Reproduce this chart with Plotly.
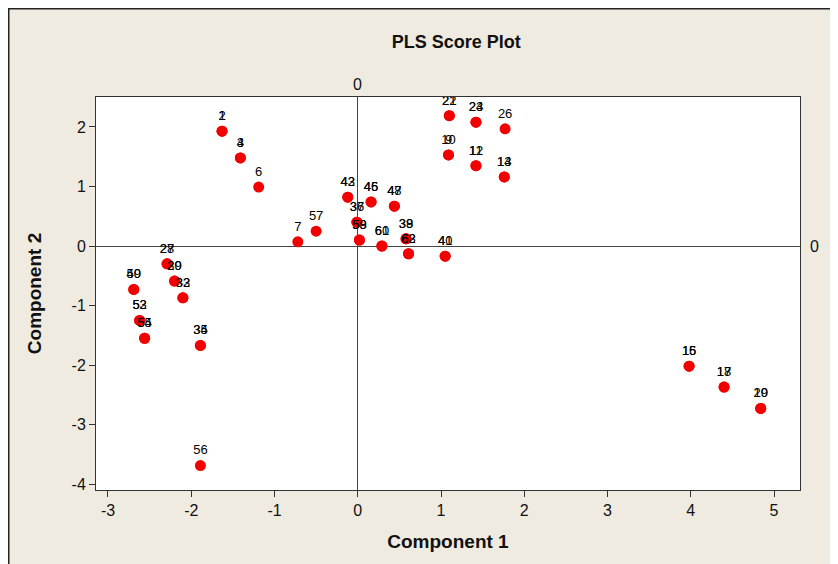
import plotly.graph_objects as go

labels = ["1", "2", "3", "4", "6", "7", "57", "42", "43", "45", "46", "47", "48",
          "36", "37", "58", "59", "60", "61", "38", "39", "62", "63", "40", "41",
          "21", "22", "23", "24", "26", "9", "10", "11", "12", "13", "14",
          "15", "16", "17", "18", "19", "20",
          "27", "28", "29", "30", "32", "33", "49", "50", "52", "53", "54", "55",
          "34", "35", "56"]
comp1 = [-1.63, -1.63, -1.41, -1.41, -1.19, -0.72, -0.50, -0.12, -0.12, 0.16, 0.16, 0.44, 0.44,
         -0.01, -0.01, 0.02, 0.02, 0.29, 0.29, 0.58, 0.58, 0.61, 0.61, 1.05, 1.05,
         1.10, 1.10, 1.42, 1.42, 1.77, 1.09, 1.09, 1.42, 1.42, 1.76, 1.76,
         3.98, 3.98, 4.40, 4.40, 4.84, 4.84,
         -2.29, -2.29, -2.20, -2.20, -2.10, -2.10, -2.69, -2.69, -2.62, -2.62, -2.56, -2.56,
         -1.89, -1.89, -1.89]
comp2 = [1.93, 1.93, 1.48, 1.48, 0.99, 0.07, 0.25, 0.82, 0.82, 0.74, 0.74, 0.67, 0.67,
         0.40, 0.40, 0.10, 0.10, 0.00, 0.00, 0.12, 0.12, -0.13, -0.13, -0.17, -0.17,
         2.19, 2.19, 2.08, 2.08, 1.97, 1.53, 1.53, 1.35, 1.35, 1.16, 1.16,
         -2.02, -2.02, -2.37, -2.37, -2.73, -2.73,
         -0.30, -0.30, -0.59, -0.59, -0.87, -0.87, -0.73, -0.73, -1.25, -1.25, -1.55, -1.55,
         -1.67, -1.67, -3.69]

x_ticks = [-3, -2, -1, 0, 1, 2, 3, 4, 5]
x_tick_text = ["-3", "-2", "-1", "0", "1", "2", "3", "4", "5"]
y_ticks = [-4, -3, -2, -1, 0, 1, 2]
y_tick_text = ["-4", "-3", "-2", "-1", "0", "1", "2"]

font = "Liberation Sans, Arial, Helvetica, sans-serif"

ML, MR, MT, MB = 88, 46, 89, 82
W, H = 838, 564
PW, PH = W - ML - MR, H - MT - MB

fig = go.Figure()
fig.add_trace(go.Scatter(
    x=comp1, y=comp2, mode="markers+text", text=labels,
    textposition="top center", textfont=dict(size=13, color="#000000", family=font),
    marker=dict(size=11, color="#f20000"),
    hoverinfo="text", cliponaxis=False, showlegend=False))

axis_common = dict(showline=True, linecolor="#333333", linewidth=1, mirror=True,
                   ticks="outside", ticklen=6, tickcolor="#333333", showgrid=False,
                   zeroline=True, zerolinecolor="#444444", zerolinewidth=1,
                   tickfont=dict(size=16, color="#111111", family=font))

fig.update_xaxes(range=[-3.144, 5.312], tickvals=x_ticks, ticktext=x_tick_text,
                 title=dict(text="<b>Component 1</b>", font=dict(size=19, family=font, color="#111111"), standoff=16),
                 **axis_common)
fig.update_yaxes(range=[-4.10, 2.504], tickvals=y_ticks, ticktext=y_tick_text,
                 title=dict(text="<b>Component 2</b>", font=dict(size=19, family=font, color="#111111"), standoff=24),
                 **axis_common)

fig.add_annotation(x=0, y=1, xref="x", yref="paper", yanchor="bottom", yshift=2,
                   text="0", showarrow=False, font=dict(size=16, family=font, color="#111111"))
fig.add_annotation(x=1, y=0, xref="paper", yref="y", xanchor="left", xshift=8,
                   text="0", showarrow=False, font=dict(size=16, family=font, color="#111111"))

# outer frame at the figure edge
fig.add_shape(type="rect", xref="paper", yref="paper",
              x0=-(ML - 0.75) / PW, y0=-(MB + 10) / PH,
              x1=1 + (MR + 10) / PW, y1=1 + (MT - 0.75) / PH,
              line=dict(color="#222222", width=1.5), fillcolor="rgba(0,0,0,0)", layer="below")

fig.update_layout(
    width=W, height=H,
    margin=dict(l=ML, r=MR, t=MT, b=MB),
    paper_bgcolor="#efebe1", plot_bgcolor="#ffffff",
    title=dict(text="<b>PLS Score Plot</b>", x=0.535, xanchor="center", y=1 - 34 / H, yanchor="middle",
               font=dict(size=18, family=font, color="#111111")),
    showlegend=False,
)

fig.write_html("out.html")
